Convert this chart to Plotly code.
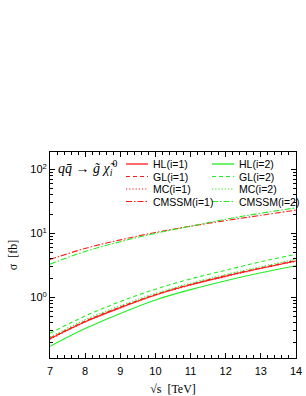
import plotly.graph_objects as go

sqrt_s = [7, 8, 9, 10, 11, 12, 13, 14]

# cross sections [fb]
HL1 = [0.225, 0.415, 0.69, 1.09, 1.57, 2.14, 2.84, 3.70]
GL1 = [0.23, 0.425, 0.705, 1.11, 1.60, 2.18, 2.89, 3.77]
MC1 = [0.222, 0.41, 0.68, 1.08, 1.55, 2.11, 2.81, 3.66]
CMSSM1 = [3.9, 5.8, 7.9, 10.3, 12.9, 15.8, 19.1, 23.0]

HL2 = [0.172, 0.325, 0.56, 0.91, 1.32, 1.82, 2.42, 3.12]
GL2 = [0.275, 0.51, 0.86, 1.34, 1.94, 2.65, 3.60, 4.70]
MC2 = [0.24, 0.445, 0.74, 1.15, 1.66, 2.27, 3.02, 3.93]
CMSSM2 = [3.3, 5.2, 7.4, 10.0, 12.9, 16.6, 20.6, 25.0]

models = ["HL", "GL", "MC", "CMSSM"]
values = {
    ("HL", 1): HL1, ("GL", 1): GL1, ("MC", 1): MC1, ("CMSSM", 1): CMSSM1,
    ("HL", 2): HL2, ("GL", 2): GL2, ("MC", 2): MC2, ("CMSSM", 2): CMSSM2,
}

RED = "#ff1a1a"
GREEN = "#22ee22"
colors = {1: RED, 2: GREEN}
dashes = {"HL": "solid", "GL": "4px,3px", "MC": "1.2px,2px", "CMSSM": "6px,2px,1.5px,2px"}

# plot box in pixels (for placing the hand-made legend)
L, R, T, B = 50, 296, 152, 358
W, H = 306, 396

fig = go.Figure()
for i in (1, 2):
    for m in models:
        fig.add_trace(go.Scatter(
            x=sqrt_s, y=values[(m, i)], mode="lines", name=f"{m}(i={i})",
            line=dict(color=colors[i], width=1.1, dash=dashes[m], shape="spline"),
            showlegend=False,
        ))

def px(x):
    return (x - L) / (R - L)

def py(y):
    return (B - y) / (B - T)

shapes = []
annotations = []
row_y = [164, 176.5, 189, 201.5]
col_line = {1: (126, 148, 151), 2: (212, 234, 237)}
for r, m in enumerate(models):
    for i in (1, 2):
        x0, x1, xt = col_line[i]
        shapes.append(dict(
            type="line", xref="paper", yref="paper",
            x0=px(x0), x1=px(x1), y0=py(row_y[r]), y1=py(row_y[r]),
            line=dict(color=colors[i], width=1.3 if m == "HL" else 1.2, dash=dashes[m]),
        ))
        annotations.append(dict(
            text=f"{m}(i={i})", xref="paper", yref="paper",
            x=px(xt), y=py(row_y[r]), xanchor="left", yanchor="middle",
            showarrow=False, font=dict(size=10.5),
        ))

annotations.append(dict(
    text="<i>q</i><i>q̄</i> → <i>g̃</i> <i>χ̃</i><sub><i>i</i></sub><sup>0</sup>",
    xref="paper", yref="paper", x=px(56), y=py(168),
    xanchor="left", yanchor="middle", showarrow=False,
    font=dict(family="Liberation Serif, Times New Roman", size=14),
))

fig.update_layout(
    width=W, height=H,
    margin=dict(l=L, r=W - R, t=T, b=H - B, autoexpand=False),
    paper_bgcolor="white", plot_bgcolor="white",
    font=dict(family="Liberation Sans, Arial", size=11, color="black"),
    showlegend=False,
    shapes=shapes,
    annotations=annotations,
)

fig.update_xaxes(
    range=[7, 14], dtick=1, tick0=7, automargin=False,
    showline=True, linecolor="black", linewidth=1, mirror="allticks",
    ticks="inside", ticklen=5, tickcolor="black",
    minor=dict(dtick=0.2, ticks="inside", ticklen=3, tickcolor="black"),
    showgrid=False, zeroline=False, ticklabelstandoff=3,
    title=dict(text="√s  [TeV]", standoff=9,
               font=dict(family="Liberation Serif, Times New Roman", size=12)),
    tickfont=dict(size=11),
)
fig.update_yaxes(
    type="log", range=[-0.948, 2.27], automargin=False,
    tickvals=[1, 10, 100], ticktext=["10<sup>0</sup>", "10<sup>1</sup>", "10<sup>2</sup>"],
    showline=True, linecolor="black", linewidth=1, mirror="allticks",
    ticks="inside", ticklen=5, tickcolor="black",
    minor=dict(ticks="inside", ticklen=3, tickcolor="black", dtick="D1"),
    showgrid=False, zeroline=False,
    title=dict(text="σ  [fb]", standoff=10,
               font=dict(family="Liberation Serif, Times New Roman", size=12)),
    tickfont=dict(size=11),
)

fig.write_html("out.html", config={"displayModeBar": False},
               post_script="document.body.style.margin='0px';")
